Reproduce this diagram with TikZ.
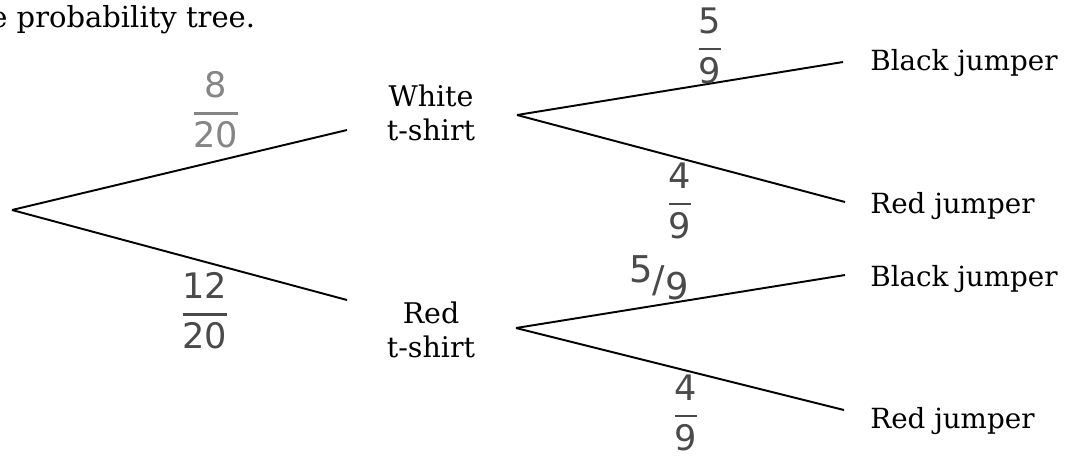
\documentclass[tikz,border=0pt]{standalone}
\usepackage{amsmath}
\usepackage{fontspec}
\setmainfont{DejaVu Serif}
\newfontfamily\handfont{DejaVu Sans}
\definecolor{hand}{HTML}{4A4A4A}
\definecolor{handlight}{HTML}{858585}
\newcommand\hfrac[2]{$\genfrac{}{}{1.3pt}{0}{\mbox{#1}}{\mbox{#2}}$}
\begin{document}
\begin{tikzpicture}[x=0.02cm,y=-0.02cm,
  branch/.style={line width=1.1pt, black},
  lbl/.style={font=\fontsize{16.2}{19}\selectfont, inner sep=0pt},
  shirt/.style={lbl, align=center},
  leaf/.style={lbl, anchor=base west, font=\fontsize{15.8}{19}\selectfont},
  prob/.style={font=\fontsize{20}{22}\selectfont\handfont, text=hand, inner sep=0pt},
]
\useasboundingbox (0,0) rectangle (1066,461);
\clip (0,0) rectangle (1066,461);
\fill[white] (0,0) rectangle (1066,461);

\node[anchor=base west, font=\fontsize{16.5}{19}\selectfont, inner sep=0pt] (title) at (-10,27) {e probability tree.};

\coordinate (root) at (12,210);
\coordinate (wIn) at (347,130);
\coordinate (rIn) at (347,300);
\coordinate (wOut) at (517,115);
\coordinate (rOut) at (516,328);
\coordinate (b1) at (843,62);
\coordinate (r1) at (845,202);
\coordinate (b2) at (845,275);
\coordinate (r2) at (844,410);

\node[shirt] (white) at (431,113) {White\\t-shirt};
\node[shirt] (red) at (431,330) {Red\\t-shirt};

\node[leaf] (bj1) at (870,70) {Black jumper};
\node[leaf] (rj1) at (870,213) {Red jumper};
\node[leaf] (bj2) at (870,286) {Black jumper};
\node[leaf] (rj2) at (870,428) {Red jumper};

\draw[branch] (root) -- (wIn);
\draw[branch] (root) -- (rIn);
\draw[branch] (wOut) -- (b1);
\draw[branch] (wOut) -- (r1);
\draw[branch] (rOut) -- (b2);
\draw[branch] (rOut) -- (r2);

\node[prob, text=handlight] (p1) at (216,110) {\hfrac{8}{20}};
\node[prob] (p2) at (205,311) {\hfrac{12}{20}};
\node[prob] (p3) at (710,46) {\hfrac{5}{9}};
\node[prob] (p4) at (680,201) {\hfrac{4}{9}};
\node[prob, font=\fontsize{21}{22}\selectfont\handfont] (p5) at (659,278) {\raisebox{6pt}{5}/\raisebox{-4pt}{9}};
\node[prob] (p6) at (686,413) {\hfrac{4}{9}};
\end{tikzpicture}
\end{document}
